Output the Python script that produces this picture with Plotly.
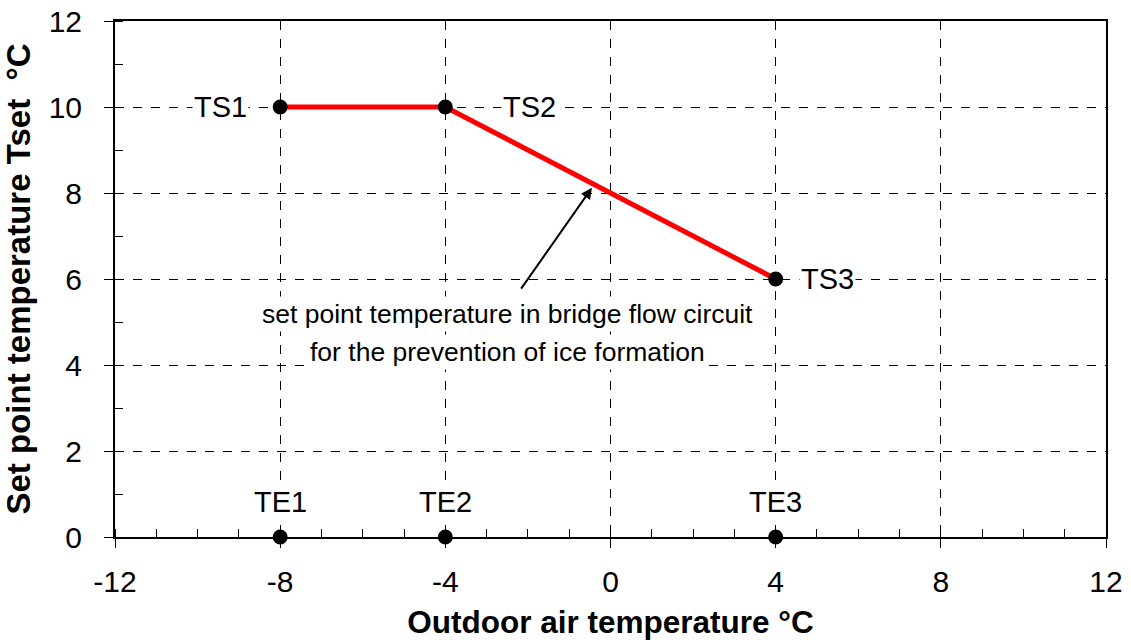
import plotly.graph_objects as go

# Data
line_x = [-8, -4, 4]
line_y = [10, 10, 6]
ts_labels = ["TS1", "TS2", "TS3"]
ts_label_x = [-9.45, -1.95, 5.25]
te_x = [-8, -4, 4]
te_y = [0, 0, 0]
te_labels = ["TE1", "TE2", "TE3"]
te_label_y = 0.82
note_lines = ["set point temperature in bridge flow circuit",
              "for the prevention of ice formation"]
note_x = -2.49
note_line_y = [5.19, 4.30]
arrow_tail = (-2.19, 5.74)
arrow_head = (-0.45, 8.12)
x_ticks = [-12, -8, -4, 0, 4, 8, 12]
y_ticks = [0, 2, 4, 6, 8, 10, 12]

FONT = "Liberation Sans, Arial, sans-serif"

fig = go.Figure()
fig.add_trace(go.Scatter(x=line_x, y=line_y, mode="lines",
                         line=dict(color="#ff0000", width=5), showlegend=False))
fig.add_trace(go.Scatter(x=line_x, y=line_y, mode="markers",
                         marker=dict(color="black", size=15), showlegend=False))
fig.add_trace(go.Scatter(x=te_x, y=te_y, mode="markers",
                         marker=dict(color="black", size=15), showlegend=False, cliponaxis=False))

for lx, ly, t in zip(ts_label_x, line_y, ts_labels):
    fig.add_annotation(x=lx, y=ly, text=t, showarrow=False, bgcolor="white",
                       font=dict(size=29, color="black", family=FONT))
for lx, t in zip(te_x, te_labels):
    fig.add_annotation(x=lx, y=te_label_y, text=t, showarrow=False, bgcolor="white",
                       font=dict(size=29, color="black", family=FONT))

for ly, t in zip(note_line_y, note_lines):
    fig.add_annotation(x=note_x, y=ly, text=t, showarrow=False,
                       bgcolor="white", borderpad=2,
                       font=dict(size=26.5, color="black", family=FONT))
fig.add_annotation(x=arrow_head[0], y=arrow_head[1], ax=arrow_tail[0], ay=arrow_tail[1],
                   xref="x", yref="y", axref="x", ayref="y", text="",
                   showarrow=True, arrowhead=2, arrowsize=1.1, arrowwidth=2,
                   arrowcolor="black")

axis_common = dict(
    showline=True, linecolor="black", linewidth=2, mirror=True,
    showgrid=True, gridcolor="black", gridwidth=1, griddash="dash",
    zeroline=False, ticks="outside", ticklen=9, tickcolor="black", tickwidth=1,
    tickfont=dict(size=30, color="black", family=FONT),
    automargin=False, ticklabeloverflow="allow",
    minor=dict(dtick=1, ticks="inside", ticklen=8, tickcolor="black", tickwidth=1, showgrid=False),
)

fig.update_xaxes(range=[-12, 12], tickvals=x_ticks, ticktext=[str(v) for v in x_ticks],
                 ticklabelstandoff=8,
                 title=dict(text="<b>Outdoor air temperature °C</b>", standoff=17,
                            font=dict(size=31.5, color="black", family=FONT)),
                 **axis_common)
fig.update_yaxes(range=[0, 12], tickvals=y_ticks, ticktext=[str(v) for v in y_ticks],
                 ticklabelstandoff=16,
                 title=dict(text="<b>Set point temperature Tset \u00a0°C</b>", standoff=13,
                            font=dict(size=33, color="black", family=FONT)),
                 **axis_common)

fig.update_layout(width=1131, height=640, margin=dict(l=115, r=25, t=21, b=103),
                  plot_bgcolor="white", paper_bgcolor="white", showlegend=False)

fig.write_html("out.html", config={"displayModeBar": False},
               post_script="document.body.style.margin='0';document.body.style.overflow='hidden';")
